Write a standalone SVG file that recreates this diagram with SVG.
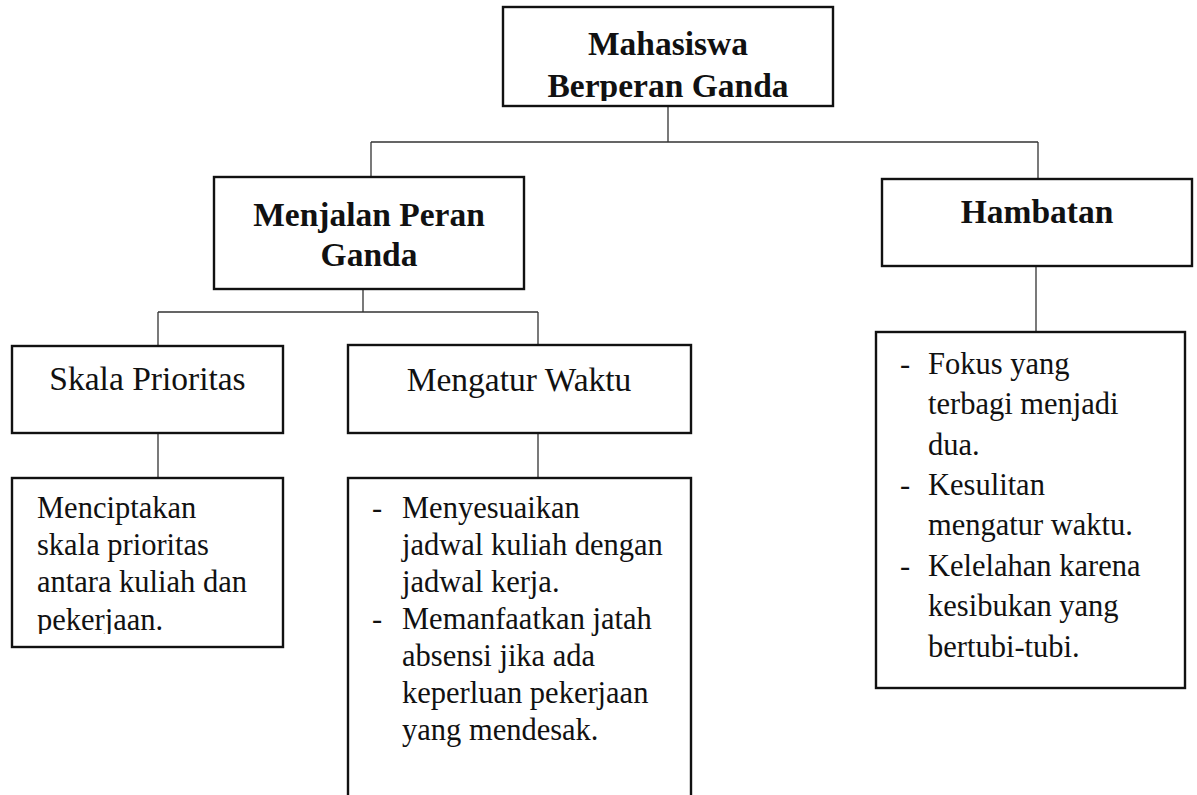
<svg xmlns="http://www.w3.org/2000/svg" width="1197" height="795" viewBox="0 0 1197 795">
<style>
.box{fill:#fff;stroke:#111;stroke-width:2.4}
.con{fill:none;stroke:#333;stroke-width:1.3}
.tb{font-family:"Liberation Serif","Times New Roman",serif;font-weight:bold;font-size:33.5px;fill:#111;text-anchor:middle}
.th{font-family:"Liberation Serif","Times New Roman",serif;font-size:33.5px;fill:#111;text-anchor:middle}
.t{font-family:"Liberation Serif","Times New Roman",serif;font-size:30.5px;fill:#111}
</style>
<defs>
<clipPath id="clipTop"><rect x="504" y="8" width="328" height="93"/></clipPath>
<clipPath id="clipLeft"><rect x="13" y="479" width="269" height="155"/></clipPath>
</defs>
<rect width="1197" height="795" fill="#fff"/>
<g id="connectors">
<path class="con" d="M668 106V142M371 142H1038M371 142V177M1038 142V179"/>
<path class="con" d="M363 289V312M158 312H538M158 312V346M538 312V345"/>
<path class="con" d="M158 433V478M538 433V478M1036 266V332"/>
</g>
<g id="root">
<rect class="box" x="503" y="7" width="330" height="99"/>
<g clip-path="url(#clipTop)">
<text class="tb" x="668" y="55">Mahasiswa</text>
<text class="tb" x="668" y="97">Berperan Ganda</text>
</g>
</g>
<g id="menjalan">
<rect class="box" x="214" y="177" width="310" height="112"/>
<text class="tb" x="369" y="226">Menjalan Peran</text>
<text class="tb" x="369" y="266">Ganda</text>
</g>
<g id="hambatan">
<rect class="box" x="882" y="179" width="310" height="87"/>
<text class="tb" x="1037" y="223">Hambatan</text>
</g>
<g id="skala">
<rect class="box" x="12" y="346" width="271" height="87"/>
<text class="th" x="147.5" y="390">Skala Prioritas</text>
</g>
<g id="mengatur">
<rect class="box" x="348" y="345" width="343" height="88"/>
<text class="th" x="519" y="391">Mengatur Waktu</text>
</g>
<g id="skala-detail">
<rect class="box" x="12" y="478" width="271" height="169"/>
<g clip-path="url(#clipLeft)">
<text class="t" x="37" y="518">Menciptakan</text>
<text class="t" x="37" y="555">skala prioritas</text>
<text class="t" x="37" y="592">antara kuliah dan</text>
<text class="t" x="37" y="630">pekerjaan.</text>
</g>
</g>
<g id="mengatur-detail">
<rect class="box" x="348" y="478" width="343" height="330"/>
<text class="t" x="372" y="518">-</text>
<text class="t" x="402" y="518">Menyesuaikan</text>
<text class="t" x="402" y="555">jadwal kuliah dengan</text>
<text class="t" x="402" y="592">jadwal kerja.</text>
<text class="t" x="372" y="629">-</text>
<text class="t" x="402" y="629">Memanfaatkan jatah</text>
<text class="t" x="402" y="666">absensi jika ada</text>
<text class="t" x="402" y="703">keperluan pekerjaan</text>
<text class="t" x="402" y="740">yang mendesak.</text>
</g>
<g id="hambatan-detail">
<rect class="box" x="876" y="332" width="309" height="356"/>
<text class="t" x="900" y="374">-</text>
<text class="t" x="928" y="374">Fokus yang</text>
<text class="t" x="928" y="414">terbagi menjadi</text>
<text class="t" x="928" y="455">dua.</text>
<text class="t" x="900" y="495">-</text>
<text class="t" x="928" y="495">Kesulitan</text>
<text class="t" x="928" y="535">mengatur waktu.</text>
<text class="t" x="900" y="576">-</text>
<text class="t" x="928" y="576">Kelelahan karena</text>
<text class="t" x="928" y="616">kesibukan yang</text>
<text class="t" x="928" y="657">bertubi-tubi.</text>
</g>
</svg>
